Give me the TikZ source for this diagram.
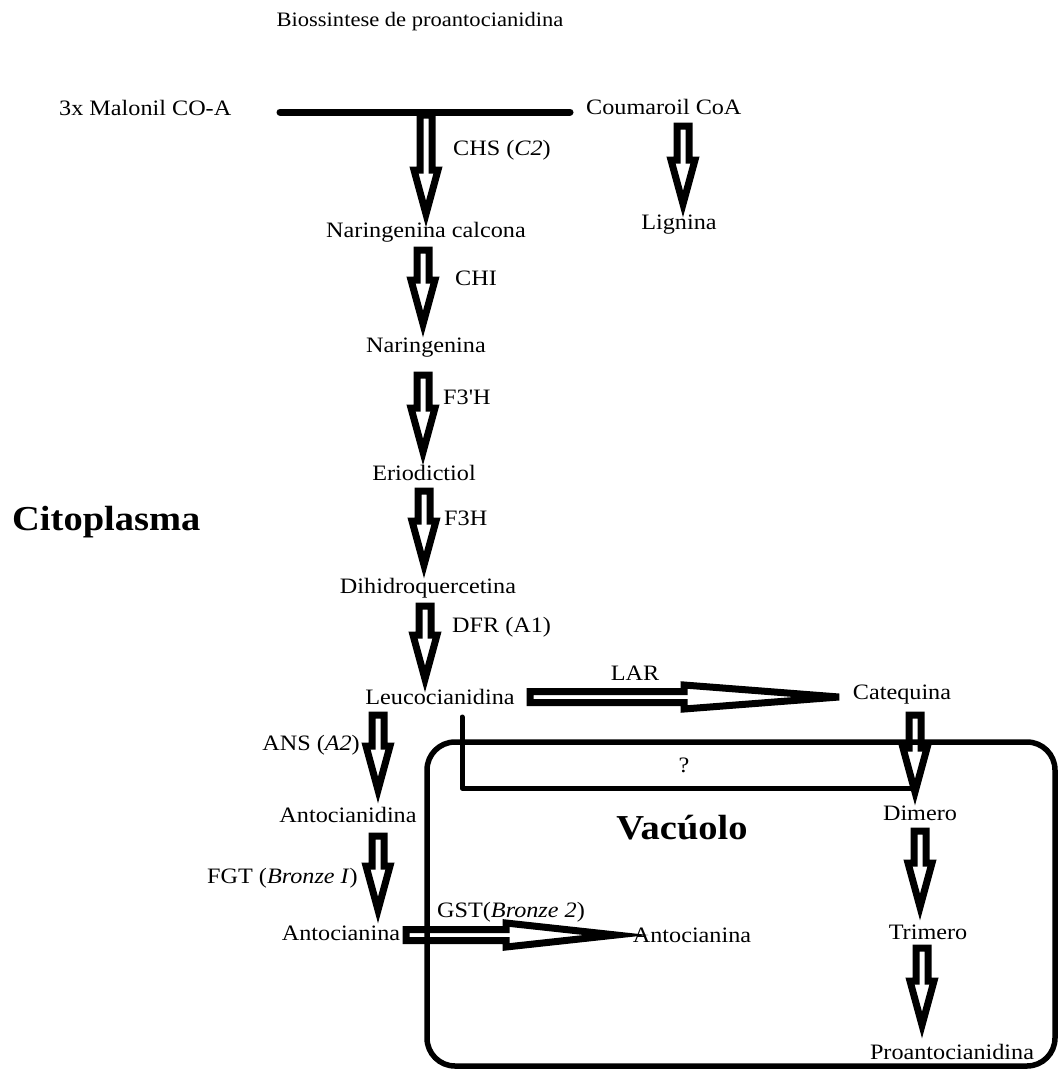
\documentclass[tikz,border=0pt]{standalone}
\usepackage{fontspec}
\setmainfont{Liberation Serif}[FakeStretch=1.1, Ligatures=TeXOff]
\usetikzlibrary{calc}
\begin{document}
\begin{tikzpicture}[x=1pt,y=-1pt,
  lbl/.style={inner sep=0pt, font=\fontsize{22}{26}\selectfont},
  ttl/.style={inner sep=0pt, font=\fontsize{20.5}{24}\selectfont},
  big/.style={inner sep=0pt, font=\fontsize{35}{40}\selectfont\bfseries},
  blockv/.style={draw=black, line width=7pt, fill=white, line join=miter,
    to path={($(\tikztostart)+(-6,0)$) -- ($(\tikztotarget)+(-6,-#1)$) -- ($(\tikztotarget)+(-12,-#1)$) -- (\tikztotarget) -- ($(\tikztotarget)+(12,-#1)$) -- ($(\tikztotarget)+(6,-#1)$) -- ($(\tikztostart)+(6,0)$) -- cycle}},
  blockv/.default=44,
  blockh/.style={draw=black, line width=7pt, fill=white, line join=miter,
    to path={($(\tikztostart)+(0,-5.5)$) -- ($(\tikztotarget)+(-#1,-5.5)$) -- ($(\tikztotarget)+(-#1,-12)$) -- (\tikztotarget) -- ($(\tikztotarget)+(-#1,12)$) -- ($(\tikztotarget)+(-#1,5.5)$) -- ($(\tikztostart)+(0,5.5)$) -- cycle}},
  thickline/.style={line width=7pt, line cap=round},
  qline/.style={line width=5pt, line cap=round, line join=round},
  vac/.style={line width=5.5pt, rounded corners=28pt}
]
\useasboundingbox (0,0) rectangle (1061,1072);

% texts
\node[ttl] (title) at (420,22) {Biossintese de proantocianidina};
\node[lbl,anchor=west] (mal) at (59,108) {3x Malonil CO-A};
\node[lbl,anchor=west] (cou) at (586,107) {Coumaroil CoA};
\node[lbl] (lig) at (679,225) {Lignina};
\node[lbl] (nc) at (426,232) {Naringenina calcona};
\node[lbl] (nar) at (426,348) {Naringenina};
\node[lbl] (eri) at (424,473) {Eriodictiol};
\node[lbl] (dhq) at (428,588) {Dihidroquercetina};
\node[lbl] (leu) at (440,697) {Leucocianidina};
\node[lbl] (cat) at (902,695) {Catequina};
\node[lbl] (acd) at (348,815) {Antocianidina};
\node[lbl] (acn) at (341,933) {Antocianina};
\node[lbl] (acn2) at (692,935) {Antocianina};
\node[lbl] (dim) at (920,813) {Dimero};
\node[lbl] (tri) at (928,932) {Trimero};
\node[lbl] (pro) at (952,1052) {Proantocianidina};
\node[big,anchor=west] (cit) at (12,522) {Citoplasma};
\node[big] (vacl) at (682,828) {Vac\'uolo};

% enzyme labels
\node[lbl,anchor=west] (chs) at (453,150) {CHS (\textit{C2})};
\node[lbl,anchor=west] (chi) at (455,278) {CHI};
\node[lbl,anchor=west] (f3ph) at (443,397) {F3'H};
\node[lbl,anchor=west] (f3h) at (444,518) {F3H};
\node[lbl,anchor=west] (dfr) at (452,627) {DFR (A1)};
\node[lbl] (lar) at (635,673) {LAR};
\node[lbl] (q) at (684,765) {?};
\node[lbl,anchor=east] (ans) at (360,745) {ANS (\textit{A2})};
\node[lbl,anchor=east] (fgt) at (358,878) {FGT (\textit{Bronze I})};
\node[lbl,anchor=west] (gst) at (437,912) {GST(\textit{Bronze 2})};

% arrow end points
\coordinate (l1) at (280,112);
\coordinate (l2) at (570,112);
\coordinate (chsA) at (426,115); \coordinate (chsB) at (426,214);
\coordinate (ligA) at (683,126); \coordinate (ligB) at (683,204);
\coordinate (chiA) at (423,250); \coordinate (chiB) at (423,324);
\coordinate (f3pA) at (423,375); \coordinate (f3pB) at (423,452);
\coordinate (f3hA) at (424,491); \coordinate (f3hB) at (424,565);
\coordinate (dfrA) at (425,606); \coordinate (dfrB) at (425,679);
\coordinate (ansA) at (378,715); \coordinate (ansB) at (378,790);
\coordinate (fgtA) at (378,836); \coordinate (fgtB) at (378,910);
\coordinate (catA) at (915,715); \coordinate (catB) at (915,792);
\coordinate (dimA) at (920,831); \coordinate (dimB) at (920,907);
\coordinate (triA) at (922,948); \coordinate (triB) at (922,1025);
\coordinate (larA) at (530,697); \coordinate (larB) at (839,697);
\coordinate (gstA) at (406,935); \coordinate (gstB) at (616,935);
\coordinate (qA) at (462,717); \coordinate (qB) at (913,788);

\draw[thickline] (l1) -- (l2);
\draw[blockv] (chsA) to (chsB);
\draw[blockv] (ligA) to (ligB);
\draw[blockv] (chiA) to (chiB);
\draw[blockv] (f3pA) to (f3pB);
\draw[blockv] (f3hA) to (f3hB);
\draw[blockv] (dfrA) to (dfrB);
\draw[blockv] (ansA) to (ansB);
\draw[blockv] (fgtA) to (fgtB);
\draw[blockv] (catA) to (catB);
\draw[blockv] (dimA) to (dimB);
\draw[blockv] (triA) to (triB);
\draw[blockh=155] (larA) to (larB);
\draw[blockh=110] (gstA) to (gstB);
\draw[qline] (qA) |- (qB);

\draw[vac] (427,742) rectangle (1055,1066);
\end{tikzpicture}
\end{document}
